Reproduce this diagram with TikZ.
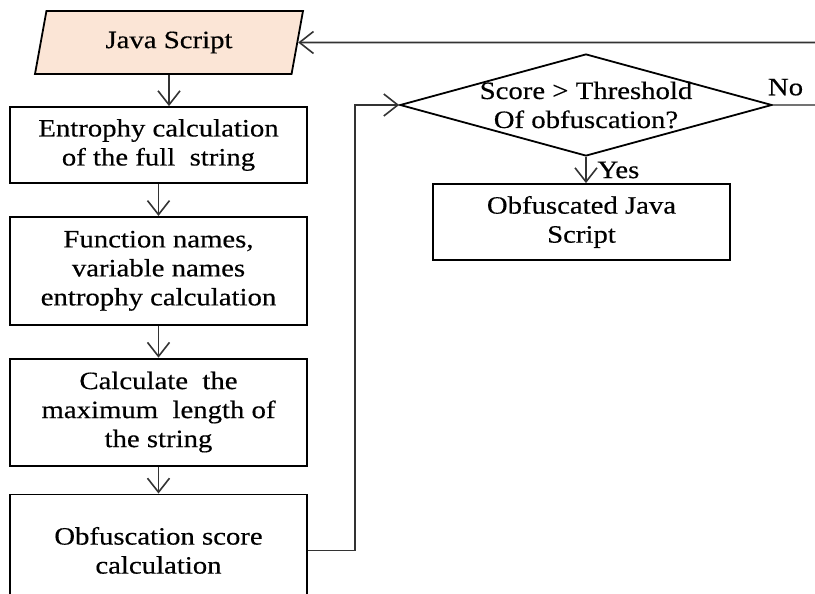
\documentclass[tikz,border=0pt]{standalone}
\usepackage{fontspec}
\setmainfont{Liberation Serif}[FakeStretch=1.15,FakeBold=0.4]
\usetikzlibrary{arrows.meta,positioning,shapes.geometric}
\definecolor{peach}{HTML}{FBE5D6}

\begin{document}
\begin{tikzpicture}[%
    x=0.5pt, y=-0.5pt,
    >={Straight Barb[length=7pt,width=11pt]},
    node distance=16pt,
    font=\fontsize{12.5}{14.5}\selectfont,
    every node/.style={align=center},
    process/.style={draw, line width=0.9pt, minimum width=148.5pt, inner sep=2pt},
    io/.style={trapezium, trapezium left angle=72, trapezium right angle=108,
      trapezium stretches body, draw, line width=0.9pt, fill=peach,
      minimum width=134pt, minimum height=31.5pt},
    decision/.style={diamond, draw, line width=0.9pt, minimum width=186pt,
      minimum height=51pt, inner sep=0pt},
    flow/.style={->, line width=0.8pt, draw=black!80},
  ]
    \path[use as bounding box, clip] (0,0) rectangle (815,594);

    \node[io] (java) at (169,42.5) {Java Script};
    \node[process, minimum height=38pt] (entropy) at (158.5,145)
      {Entrophy calculation\\of the full\ \ string};
    \node[process, minimum height=54pt] (names) [below=of entropy]
      {Function names,\\variable names\\entrophy calculation};
    \node[process, minimum height=53.5pt] (maxlen) [below=of names]
      {Calculate\ \ the\\maximum\ \ length of\\the string};
    \node[process, minimum height=56pt] (score) [below=13.5pt of maxlen]
      {Obfuscation score\\calculation};

    \node[decision, label={[align=center]center:Score > Threshold\\Of obfuscation?}]
      (check) at (586,105) {};
    \node[process, minimum height=38pt] (result) at (581.5,222)
      {Obfuscated Java\\Script};

    \coordinate (elbow) at (355,0);
    \coordinate (noend) at (815,105);
    \coordinate (backin) at (815,42.5);

    \path[flow]
    (entropy) edge (names)
    (names) edge (maxlen)
    (maxlen) edge (score)
    ;
    \draw[flow] (java.south) -- (java.south |- entropy.north);
    \draw[flow] (backin) -- (java.east);
    \draw[flow] (score.east) -- (score.east -| elbow) |- (check.west);
    \draw[flow] (check.south) -- node[right=2pt] {Yes} (check.south |- result.north);
    \draw[line width=0.8pt, draw=black!55] (check.east) -- node[pos=0.3, above=1pt] {No} (noend);
  \end{tikzpicture}
\end{document}
